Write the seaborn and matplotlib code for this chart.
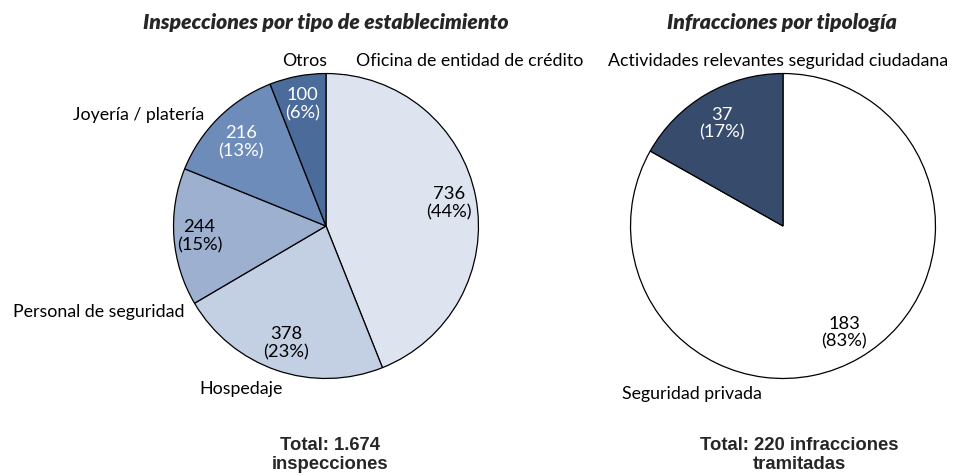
import matplotlib
matplotlib.use("Agg")
import matplotlib.pyplot as plt
import seaborn as sns

# Inspections by establishment type
insp_labels = ["Oficina de entidad de crédito", "Hospedaje", "Personal de seguridad",
               "Joyería / platería", "Otros"]
insp_values = [736, 378, 244, 216, 100]
insp_colors = ["#DDE4F0", "#C3CFE2", "#9EB0CF", "#6E8CBA", "#4B6B9B"]
insp_value_colors = ["black", "black", "black", "white", "white"]

# Offences by type
infr_labels = ["Seguridad privada", "Actividades relevantes seguridad ciudadana"]
infr_values = [183, 37]
infr_colors = ["#FFFFFF", "#374B6C"]
infr_value_colors = ["black", "white"]

sns.set_theme(style="white")
plt.rcParams["font.family"] = ["Lato", "DejaVu Sans"]

W, H = 954, 476
fig = plt.figure(figsize=(W / 100, H / 100), dpi=100)
fig.patch.set_facecolor("white")

R = 154  # pie radius in pixels


def pie_axes(cx, cy):
    return fig.add_axes([(cx - R) / W, (H - cy - R) / H, 2 * R / W, 2 * R / H])


def draw_pie(ax, values, colors, labels, value_colors, name_pos, value_pos):
    total = sum(values)
    ax.pie(values, colors=colors, startangle=90, counterclock=False, radius=1,
           wedgeprops=dict(edgecolor="black", linewidth=0.9))
    ax.set_xlim(-1.01, 1.01)
    ax.set_ylim(-1.01, 1.01)
    ax.set_aspect("equal")
    ax.axis("off")
    for v, lab, col, (nx, ny), (vx, vy) in zip(values, labels, value_colors, name_pos, value_pos):
        pct = round(100 * v / total)
        ax.text(vx, vy, f"{v}\n({pct}%)", ha="center", va="center", color=col,
                fontsize=13.2, linespacing=1.15)
        ax.text(nx, ny, lab, ha="center", va="center", color="black", fontsize=12.8)


ax1 = pie_axes(326, 226)
draw_pie(ax1, insp_values, insp_colors, insp_labels, insp_value_colors,
         name_pos=[(0.94, 1.08), (-0.56, -1.07), (-1.49, -0.565), (-1.23, 0.73), (-0.14, 1.08)],
         value_pos=[(0.805, 0.15), (-0.26, -0.77), (-0.83, -0.065), (-0.56, 0.55), (-0.155, 0.80)])

ax2 = pie_axes(783, 226)
draw_pie(ax2, infr_values, infr_colors, infr_labels, infr_value_colors,
         name_pos=[(-0.6, -1.10), (-0.03, 1.08)],
         value_pos=[(0.40, -0.70), (-0.40, 0.67)])

title_kw = dict(ha="center", va="center", fontsize=15.2, fontweight="heavy", fontstyle="italic")
fig.text(326 / W, 1 - 23 / H, "Inspecciones por tipo de establecimiento", **title_kw)
fig.text(782 / W, 1 - 23 / H, "Infracciones por tipología", **title_kw)

total_kw = dict(ha="center", va="center", fontsize=13.3, fontweight="bold",
                family=["Liberation Sans", "DejaVu Sans"], linespacing=1.1)
fig.text(330 / W, 1 - 455 / H, "Total: 1.674\ninspecciones", **total_kw)
fig.text(799 / W, 1 - 455 / H, "Total: 220 infracciones\ntramitadas", **total_kw)

fig.savefig("out.png", dpi=100, facecolor="white")
